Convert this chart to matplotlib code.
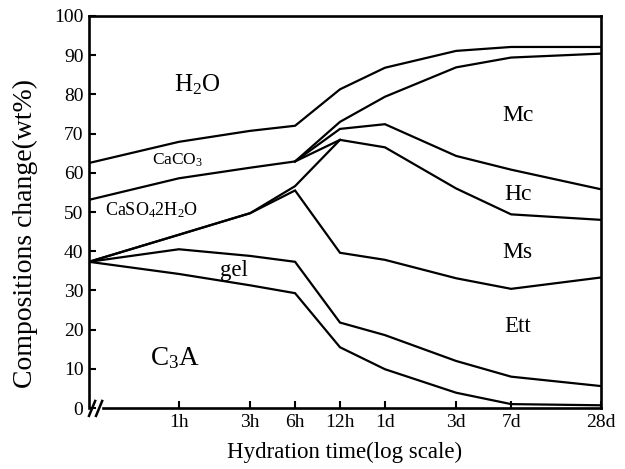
import numpy as np
import matplotlib
matplotlib.use("Agg")
import matplotlib.pyplot as plt
from matplotlib.ticker import NullLocator

plt.rcParams['font.family'] = ['Liberation Serif', 'DejaVu Serif']
plt.rcParams['mathtext.fontset'] = 'custom'
plt.rcParams['mathtext.rm'] = 'Liberation Serif'
plt.rcParams['mathtext.it'] = 'Liberation Serif:italic'

nan = np.nan

# hydration time in hours (first point = start of measurement)
hours = [0.25, 1, 3, 6, 12, 24, 72, 168, 672]
tick_hours = [1, 3, 6, 12, 24, 72, 168, 672]
tick_labels = ['1h', '3h', '6h', '12h', '1d', '3d', '7d', '28d']

# boundary lines of the stacked composition (wt%)
h2o_low = [62.5, 67.9, 70.7, 72.0, 81.3, 86.8, 91.1, 92.1, 92.1]
caco3_low = [53.1, 58.6, 61.3, 62.9, 73.0, 79.4, 86.9, 89.4, 90.4]
mc_low = [nan, nan, nan, 62.9, 71.2, 72.4, 64.3, 60.8, 55.8]
hc_low = [nan, nan, nan, 62.9, 68.4, nan, nan, nan, nan]
ms_up = [37.3, 44.2, 49.7, 56.6, 68.4, 66.5, 56.0, 49.4, 48.0]
ett_up = [37.3, 44.2, 49.7, 55.5, 39.6, 37.8, 33.1, 30.4, 33.3]
gel_up = [37.3, 40.5, 38.8, 37.3, 21.8, 18.6, 12.0, 8.0, 5.6]
c3a_up = [37.3, 34.2, 31.3, 29.3, 15.5, 9.9, 3.9, 1.0, 0.7]

fig = plt.figure(figsize=(6.25, 4.69), dpi=100)
ax = fig.add_axes([0.1424, 0.130, 0.8192, 0.8359])

for line in [h2o_low, caco3_low, mc_low, hc_low, ms_up, ett_up, gel_up, c3a_up]:
    ax.plot(hours, line, color='black', lw=1.6, solid_joinstyle='miter')

ax.set_xscale('log')
ax.set_xlim(0.25, 672)
ax.set_ylim(0, 100)
ax.xaxis.set_minor_locator(NullLocator())
ax.set_xticks(tick_hours)
ax.set_xticklabels(tick_labels)
ax.set_yticks(range(0, 101, 10))

ax.tick_params(direction='in', length=5, width=1.5, labelsize=14, pad=4)
for s in ax.spines.values():
    s.set_linewidth(1.9)
ax.spines['bottom'].set_bounds(0.31, 672)

# axis break marks
for x0 in [0.0, 0.0137]:
    ax.plot([x0, x0 + 0.012], [-0.02, 0.018], transform=ax.transAxes,
            color='black', lw=1.8, clip_on=False)

ax.set_xlabel('Hydration time(log scale)', fontsize=16.5)
ax.set_ylabel('Compositions change(wt%)', fontsize=20)
ax.xaxis.set_label_coords(0.5, -0.086)
ax.yaxis.set_label_coords(-0.10, 0.444)

labels = [
    (1.32, 80.8, r'H$_2$O', 18),
    (0.985, 62.2, r'CaCO$_3$', 12.5),
    (0.66, 49.2, r'CaSO$_4$2H$_2$O', 13),
    (2.34, 33.7, 'gel', 16.5),
    (0.94, 11.0, r'C$_3$A', 19.5),
    (186, 73.3, 'Mc', 17),
    (186, 53.1, 'Hc', 17),
    (186, 38.2, 'Ms', 17),
    (186, 19.5, 'Ett', 16.5),
]
for x, y, t, fs in labels:
    ax.text(x, y, t, fontsize=fs, ha='center', va='baseline')

fig.savefig('out.png', dpi=100)
